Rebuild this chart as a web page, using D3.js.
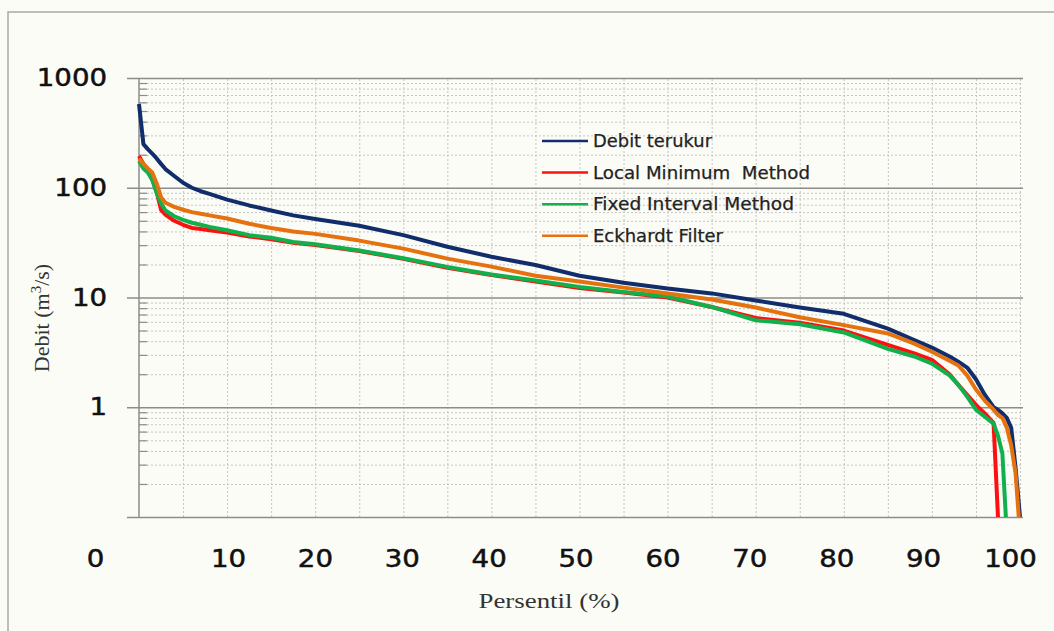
<!DOCTYPE html>
<html>
<head>
<meta charset="UTF-8">
<title>Kurva durasi debit</title>
<style>
  * { margin: 0; padding: 0; }
  body { background: #fcfcf7; }
  svg { display: block; }
  .gridMinor line { stroke: #c4c4c4; stroke-dasharray: 2,2; }
  .gridMajor line { stroke: #8c8c8c; stroke-width: 1.5; }
  .tickMinor line { stroke: #8c8c8c; stroke-width: 1.2; }
  .domain { display: none; }
</style>
</head>
<body>
<script src="https://cdn.jsdelivr.net/npm/d3@7/dist/d3.min.js"></script>
<script>
// data
var persentil = [0, 0.5, 1, 1.5, 2, 2.5, 3, 4, 5, 6, 7, 8, 10, 12.5, 15, 17.5, 20, 25, 30, 35, 40, 45, 50,
                 55, 60, 65, 70, 75, 80, 85, 88, 90, 92, 93, 94, 95, 96, 97, 97.5, 98, 98.5, 99, 99.5, 100];
var debitTerukur = [580, 250, 225, 205, 185, 165, 148, 128, 111, 100, 93, 88, 78, 69, 62, 56, 52, 45, 37, 29, 23.5, 19.8, 15.8,
                    13.6, 12.1, 10.9, 9.4, 8.1, 7.1, 5.2, 4.1, 3.5, 2.9, 2.6, 2.3, 1.8, 1.3, 1.0, 0.95, 0.88, 0.8, 0.65, 0.28, 0.1];
var localMinimum = [195, 165, 145, 120, 92, 63, 57, 50, 46, 43, 42, 41, 39, 36, 34, 31.5, 30, 26.5, 22.5, 18.7, 16, 14, 12.2,
                    11.1, 10, 8.2, 6.5, 5.9, 5.0, 3.7, 3.1, 2.7, 2.0, 1.6, 1.3, 1.05, 0.88, 0.72, 0.1, 0.03, 0.02, 0.02, 0.02, 0.02];
var fixedInterval = [175, 150, 138, 118, 90, 72, 62, 55, 51, 48, 46, 44, 41, 37, 35, 32, 30.5, 26.8, 22.8, 19, 16.2, 14.3, 12.5,
                     11.2, 10.2, 8.2, 6.2, 5.7, 4.8, 3.4, 2.9, 2.5, 1.95, 1.6, 1.25, 0.95, 0.82, 0.71, 0.55, 0.38, 0.07, 0.02, 0.02, 0.02];
var eckhardt = [185, 165, 150, 138, 110, 82, 73, 67, 63, 60, 58, 56, 52.5, 47, 43, 40, 38, 33, 27.9, 22.6, 19.1, 15.8, 14,
                12.3, 10.9, 9.6, 8.1, 6.6, 5.6, 4.7, 3.8, 3.2, 2.65, 2.4, 1.95, 1.45, 1.15, 0.95, 0.85, 0.8, 0.65, 0.45, 0.25, 0.07];

var seriesNames = ["Debit terukur", "Local Minimum  Method", "Fixed Interval Method", "Eckhardt Filter"];
var seriesColors = ["#112d6b", "#ff1010", "#12b04c", "#e5720f"];
var xTickLabels = [0, 10, 20, 30, 40, 50, 60, 70, 80, 90, 100];
var yTickLabels = [1, 10, 100, 1000];

var width = 1054, height = 631;
var plotLeft = 139, plotRight = 1020, plotTop = 78, plotBottom = 517;

var svg = d3.select("body").append("svg")
    .attr("width", width)
    .attr("height", height);

// chart area border (left / top visible)
svg.append("rect")
    .attr("x", 8).attr("y", 12)
    .attr("width", 1100).attr("height", 700)
    .attr("fill", "#fcfcf7")
    .attr("stroke", "#a8a8a8")
    .attr("stroke-width", 1.5);

var x = d3.scaleLinear().domain([0, 100]).range([plotLeft, plotRight]);
var y = d3.scaleLog().domain([0.1, 1000]).range([plotBottom, plotTop]);
// labels on the x axis sit a little apart from the grid (as in the picture)
var xLab = d3.scaleLinear().domain([0, 10, 100]).range([95, 228, 1010]);

var minorVals = [];
[0.1, 1, 10, 100].forEach(function(d) {
    for (var k = 2; k <= 9; k++) minorVals.push(d * k);
});

// minor horizontal grid (dotted)
svg.append("g").attr("class", "gridMinor")
    .attr("transform", "translate(" + plotLeft + ",0)")
    .call(d3.axisRight(y).tickValues(minorVals).tickSize(plotRight - plotLeft + 2).tickFormat(""));

// vertical grid every 5 %
svg.append("g").attr("class", "gridMinor")
    .attr("transform", "translate(0," + plotBottom + ")")
    .call(d3.axisTop(x).tickValues(d3.range(5, 101, 5)).tickSize(plotBottom - plotTop).tickFormat(""));

// small tick marks inside the y axis
svg.append("g").attr("class", "tickMinor")
    .attr("transform", "translate(" + plotLeft + ",0)")
    .call(d3.axisRight(y).tickValues(minorVals).tickSize(8).tickFormat(""));

// major horizontal lines
svg.append("g").attr("class", "gridMajor")
    .attr("transform", "translate(127,0)")
    .call(d3.axisRight(y).tickValues([0.1, 1, 10, 100, 1000]).tickSize(plotRight + 3 - 127).tickFormat(""));

// y axis line
svg.append("line")
    .attr("x1", plotLeft).attr("x2", plotLeft)
    .attr("y1", plotTop).attr("y2", plotBottom)
    .attr("stroke", "#8c8c8c").attr("stroke-width", 1.5);

// y tick labels
var yAx = svg.append("g")
    .attr("transform", "translate(" + plotLeft + ",0)")
    .call(d3.axisLeft(y).tickValues(yTickLabels).tickFormat(d3.format("d")).tickSize(0));
yAx.selectAll("text")
    .attr("x", -32 / 1.15)
    .attr("transform", "scale(1.15,1)")
    .style("font-family", "'DejaVu Sans', Verdana, sans-serif")
    .style("font-size", "24px")
    .attr("fill", "#111")
    .attr("stroke", "#111")
    .attr("stroke-width", 0.5);

// x tick labels
var xAx = svg.append("g")
    .attr("transform", "translate(0," + plotBottom + ")")
    .call(d3.axisBottom(xLab).tickValues(xTickLabels).tickFormat(d3.format("d")).tickSize(0).tickPadding(33));
xAx.selectAll("text")
    .attr("transform", "scale(1.15,1)")
    .style("font-family", "'DejaVu Sans', Verdana, sans-serif")
    .style("font-size", "24px")
    .attr("fill", "#111")
    .attr("stroke", "#111")
    .attr("stroke-width", 0.5);

// axis titles
svg.append("text")
    .attr("transform", "translate(49,318) rotate(-90)")
    .attr("text-anchor", "middle")
    .style("font-family", "'Liberation Serif', 'Times New Roman', serif")
    .style("font-size", "22px")
    .attr("fill", "#333")
    .call(function(t) {
        t.append("tspan").text("Debit (m");
        t.append("tspan").attr("dy", -8).style("font-size", "15px").text("3");
        t.append("tspan").attr("dy", 8).text("/s)");
    });

svg.append("text")
    .attr("x", 549).attr("y", 608)
    .attr("text-anchor", "middle")
    .style("font-family", "'Liberation Serif', 'Times New Roman', serif")
    .style("font-size", "22px")
    .attr("fill", "#333")
    .attr("textLength", 141)
    .attr("lengthAdjust", "spacingAndGlyphs")
    .text("Persentil (%)");

// lines
svg.append("clipPath").attr("id", "plotClip")
    .append("rect")
    .attr("x", plotLeft - 4).attr("y", plotTop - 4)
    .attr("width", plotRight - plotLeft + 8).attr("height", plotBottom - plotTop + 4);

var line = d3.line()
    .x(function(d) { return x(d[0]); })
    .y(function(d) { return y(d[1]); });

var allSeries = [debitTerukur, localMinimum, fixedInterval, eckhardt];
var plot = svg.append("g").attr("clip-path", "url(#plotClip)");
allSeries.forEach(function(vals, i) {
    plot.append("path")
        .datum(persentil.map(function(p, j) { return [p, vals[j]]; }))
        .attr("d", line)
        .attr("fill", "none")
        .attr("stroke", seriesColors[i])
        .attr("stroke-width", 4)
        .attr("stroke-linejoin", "round");
});

// legend
var legendW = [119, 217, 201, 130];
var legend = svg.append("g");
seriesNames.forEach(function(name, i) {
    var ly = 141 + i * 31.6;
    legend.append("line")
        .attr("x1", 542).attr("x2", 588)
        .attr("y1", ly).attr("y2", ly)
        .attr("stroke", seriesColors[i])
        .attr("stroke-width", 2.5);
    legend.append("text")
        .attr("x", 593).attr("y", ly + 6)
        .style("font-family", "'DejaVu Sans', Verdana, sans-serif")
        .style("font-size", "17px")
        .style("white-space", "pre")
        .attr("fill", "#222")
        .attr("stroke", "#222")
        .attr("stroke-width", 0.25)
        .attr("textLength", legendW[i])
        .attr("lengthAdjust", "spacingAndGlyphs")
        .text(name);
});
</script>
</body>
</html>
